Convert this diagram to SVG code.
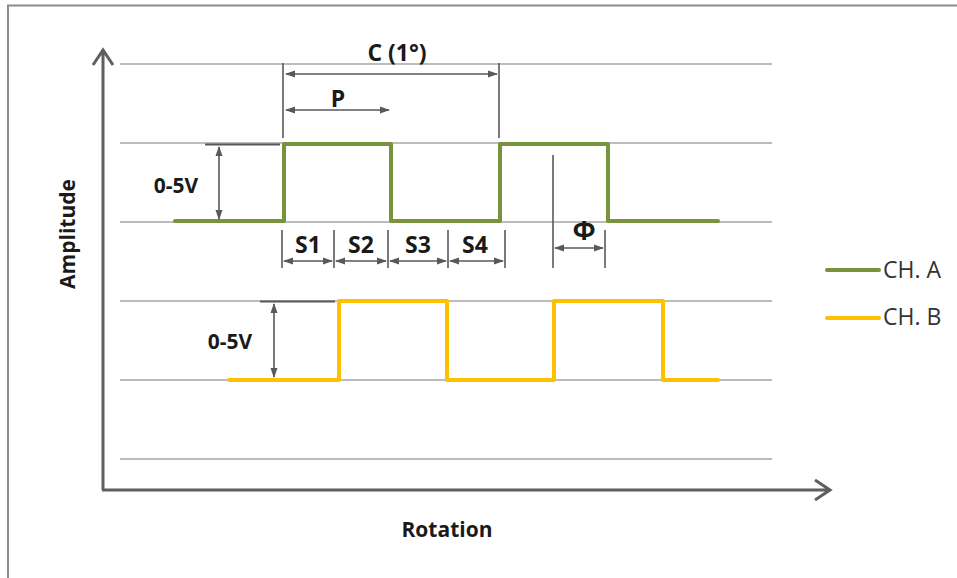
<svg xmlns="http://www.w3.org/2000/svg" width="957" height="578" viewBox="0 0 957 578">
<style>
.grid{stroke:#a6a6a6;stroke-width:1.3;fill:none}
.axis{stroke:#5f5f5f;stroke-width:3;fill:none}
.dim{stroke:#595959;stroke-width:1.6;fill:none}
.tick{stroke:#595959;stroke-width:1.6}
.chA{stroke:#77933c;stroke-width:4;fill:none;stroke-linecap:round;stroke-linejoin:round}
.chB{stroke:#ffc000;stroke-width:4;fill:none;stroke-linecap:round;stroke-linejoin:round}
.lbl{font-family:"Open Sans","Liberation Sans",sans-serif;font-weight:bold;font-size:21px;fill:#1a1a1a}
.big{font-size:23px}
.leg{font-family:"Open Sans","Liberation Sans",sans-serif;font-size:23px;fill:#333}
</style>
<defs>
<marker id="ah" viewBox="0 0 10 10" refX="9" refY="5" markerWidth="6.5" markerHeight="6.5" orient="auto-start-reverse" markerUnits="strokeWidth">
<path d="M0,1.5 L10,5 L0,8.5 z" fill="#595959"/>
</marker>
</defs>
<rect x="0" y="0" width="957" height="578" fill="#fff"/>
<path d="M8,580 V5.5 H960" fill="none" stroke="#8c8c8c" stroke-width="2"/>
<g id="grid">
<line class="grid" x1="120" y1="64" x2="772" y2="64"/>
<line class="grid" x1="120" y1="143" x2="772" y2="143"/>
<line class="grid" x1="120" y1="222" x2="772" y2="222"/>
<line class="grid" x1="120" y1="301" x2="772" y2="301"/>
<line class="grid" x1="120" y1="380" x2="772" y2="380"/>
<line class="grid" x1="120" y1="459" x2="772" y2="459"/>
</g>
<g id="axes">
<path class="axis" d="M103,490 V52 M93,65 L103,50 L113,65"/>
<path class="axis" d="M102,490 H828 M815,480 L830,490 L815,500"/>
<text class="lbl" transform="translate(75,234) rotate(-90)" text-anchor="middle">Amplitude</text>
<text class="lbl" x="447" y="537" text-anchor="middle">Rotation</text>
</g>
<g id="channel-a">
<path class="chA" d="M175,221 H284 V144 H391 V221 H500 V144 H608 V221 H718"/>
</g>
<g id="channel-b">
<path class="chB" d="M229,380 H339 V301 H447 V380 H554 V301 H663 V380 H718"/>
</g>
<g id="connectors">
<line class="tick" x1="283" y1="63" x2="283" y2="138"/>
<line class="tick" x1="499" y1="63" x2="499" y2="138"/>
<line class="dim" x1="286" y1="74" x2="497" y2="74" marker-start="url(#ah)" marker-end="url(#ah)"/>
<line class="dim" x1="286" y1="110" x2="389" y2="110" marker-start="url(#ah)" marker-end="url(#ah)"/>
<line x1="205" y1="144.5" x2="280" y2="144.5" stroke="#595959" stroke-width="2"/>
<line class="dim" x1="219" y1="147" x2="219" y2="219" marker-start="url(#ah)" marker-end="url(#ah)"/>
<line x1="260" y1="301.5" x2="335" y2="301.5" stroke="#595959" stroke-width="2"/>
<line class="dim" x1="274" y1="304" x2="274" y2="377" marker-start="url(#ah)" marker-end="url(#ah)"/>
<line class="tick" x1="282" y1="230" x2="282" y2="268"/>
<line class="tick" x1="334" y1="230" x2="334" y2="268"/>
<line class="tick" x1="388" y1="230" x2="388" y2="268"/>
<line class="tick" x1="448" y1="230" x2="448" y2="268"/>
<line class="tick" x1="505" y1="230" x2="505" y2="268"/>
<line class="tick" x1="553" y1="155" x2="553" y2="268"/>
<line class="tick" x1="605" y1="230" x2="605" y2="268"/>
<line class="dim" x1="284" y1="261" x2="332" y2="261" marker-start="url(#ah)" marker-end="url(#ah)"/>
<line class="dim" x1="336" y1="261" x2="386" y2="261" marker-start="url(#ah)" marker-end="url(#ah)"/>
<line class="dim" x1="390" y1="261" x2="446" y2="261" marker-start="url(#ah)" marker-end="url(#ah)"/>
<line class="dim" x1="450" y1="261" x2="503" y2="261" marker-start="url(#ah)" marker-end="url(#ah)"/>
<line class="dim" x1="555" y1="248" x2="603" y2="248" marker-start="url(#ah)" marker-end="url(#ah)"/>
</g>
<g id="labels">
<text class="lbl big" x="397" y="61" text-anchor="middle">C (1°)</text>
<text class="lbl big" x="338" y="107" text-anchor="middle">P</text>
<text class="lbl" x="176" y="193" text-anchor="middle">0-5V</text>
<text class="lbl" x="230" y="349" text-anchor="middle">0-5V</text>
<text class="lbl big" x="308" y="253" text-anchor="middle">S1</text>
<text class="lbl big" x="361" y="253" text-anchor="middle">S2</text>
<text class="lbl big" x="418" y="253" text-anchor="middle">S3</text>
<text class="lbl big" x="475" y="253" text-anchor="middle">S4</text>
<text class="lbl" x="584" y="240" text-anchor="middle" style="font-size:27px">Φ</text>
</g>
<g id="legend">
<line x1="827" y1="270" x2="879" y2="270" stroke="#77933c" stroke-width="4" stroke-linecap="round"/>
<text class="leg" x="883" y="278">CH. A</text>
<line x1="827" y1="318" x2="879" y2="318" stroke="#ffc000" stroke-width="4" stroke-linecap="round"/>
<text class="leg" x="883" y="325">CH. B</text>
</g>
</svg>
